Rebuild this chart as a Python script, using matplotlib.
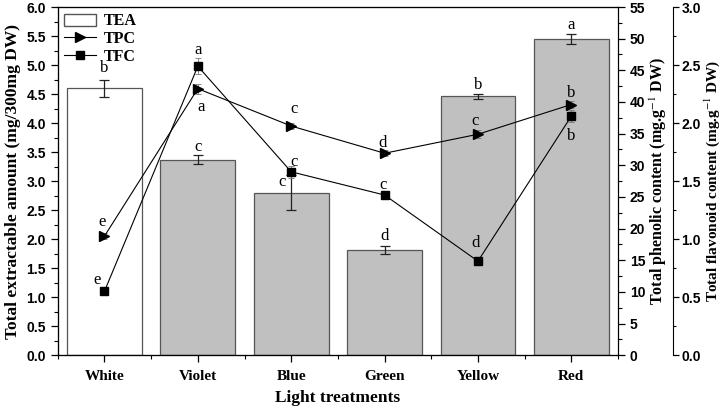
import numpy as np
import matplotlib
matplotlib.use('Agg')
import matplotlib.pyplot as plt
from matplotlib.ticker import MultipleLocator
from matplotlib.lines import Line2D
from matplotlib.patches import Patch

plt.rcParams['mathtext.fontset'] = 'stix'

treatments = ['White', 'Violet', 'Blue', 'Green', 'Yellow', 'Red']
tea = [4.60, 3.37, 2.80, 1.82, 4.46, 5.45]
tea_err = [0.15, 0.08, 0.30, 0.07, 0.04, 0.09]
tpc = [18.8, 42.1, 36.2, 31.9, 34.9, 39.6]
tpc_err = [0.5, 0.8, 0.5, 0.5, 0.6, 0.6]
tfc = [0.55, 2.49, 1.58, 1.38, 0.81, 2.06]
tfc_err = [0.02, 0.07, 0.05, 0.03, 0.02, 0.05]

# significance letters: (x, y in left-axis units)
tea_lbl = ['b', 'c', 'c', 'd', 'b', 'a']
tea_lxy = [(0.0, 4.95), (1.0, 3.59), (1.9, 2.98), (3.0, 2.05), (4.0, 4.66), (5.0, 5.69)]
tpc_lbl = ['e', 'a', 'c', 'd', 'c', 'b']
tpc_lxy = [(-0.03, 2.29), (1.03, 4.28), (2.03, 4.24), (2.98, 3.66), (3.97, 4.03), (5.0, 4.52)]
tfc_lbl = ['e', 'a', 'c', 'c', 'd', 'b']
tfc_lxy = [(-0.08, 1.29), (1.0, 5.26), (2.03, 3.33), (2.98, 2.93), (3.97, 1.93), (5.0, 3.78)]

serif = 'Liberation Serif'
sans = 'Liberation Sans'

fig = plt.figure(figsize=(7.22, 4.13), dpi=100)
ax = fig.add_axes([0.080, 0.140, 0.776, 0.843])
x = np.arange(len(treatments))

fills = ['white'] + ['#c0c0c0'] * 5
ax.bar(x, tea, 0.8, color=fills, edgecolor='#555555', linewidth=0.9, zorder=1)
ax.errorbar(x, tea, yerr=tea_err, fmt='none', ecolor='#222222', elinewidth=0.9, capsize=3.5, capthick=0.9, zorder=2)
ax.set_xlim(-0.5, 5.5)
ax.set_ylim(0, 6)
ax.yaxis.set_major_locator(MultipleLocator(0.5))
ax.yaxis.set_minor_locator(MultipleLocator(0.25))
ax.set_xticks(x)
ax.set_xticks(np.arange(-0.5, 6, 1), minor=True)
ax.set_xticklabels(treatments, fontfamily=serif, fontweight='bold', fontsize=11)
for lab in ax.get_yticklabels():
    lab.set_fontfamily(sans); lab.set_fontweight('bold'); lab.set_fontsize(10)
ax.yaxis.set_major_formatter(matplotlib.ticker.FormatStrFormatter('%.1f'))
ax.tick_params(axis='both', which='major', direction='out', length=5, width=0.9)
ax.tick_params(axis='both', which='minor', direction='out', length=3, width=0.8)
ax.tick_params(axis='x', pad=6)
ax.set_ylabel('Total extractable amount (mg/300mg DW)', fontfamily=serif, fontweight='bold', fontsize=12.5, labelpad=4)
ax.set_xlabel('Light treatments', fontfamily=serif, fontweight='bold', fontsize=12.5, labelpad=5)

ax2 = ax.twinx()
ax2.errorbar(x, tpc, yerr=tpc_err, color='black', marker='>', markersize=7, linewidth=0.8,
             elinewidth=0.6, ecolor='#777777', capsize=2.5, capthick=0.6, zorder=3)
ax2.set_ylim(0, 55)
ax2.yaxis.set_major_locator(MultipleLocator(5))
ax2.yaxis.set_minor_locator(MultipleLocator(2.5))
ax2.tick_params(axis='y', which='major', direction='out', length=5, width=0.9)
ax2.tick_params(axis='y', which='minor', direction='out', length=3, width=0.8)
ax2.set_ylabel('Total phenolic content (mg.g$^{-1}$ DW)', fontfamily=serif, fontweight='bold', fontsize=11.5, labelpad=2)

ax3 = ax.twinx()
ax3.spines['right'].set_position(('outward', 39.6))
ax3.errorbar(x, tfc, yerr=tfc_err, color='black', marker='s', markersize=6, linewidth=0.8,
             elinewidth=0.6, ecolor='#777777', capsize=2.5, capthick=0.6, zorder=3)
ax3.set_ylim(0, 3)
ax3.yaxis.set_major_locator(MultipleLocator(0.5))
ax3.yaxis.set_minor_locator(MultipleLocator(0.25))
ax3.yaxis.set_major_formatter(matplotlib.ticker.FormatStrFormatter('%.1f'))
ax3.tick_params(axis='y', which='major', direction='out', length=4, width=0.9, pad=2)
ax3.tick_params(axis='y', which='minor', direction='out', length=2.5, width=0.8)
ax3.set_ylabel('Total flavonoid content (mg.g$^{-1}$ DW)', fontfamily=serif, fontweight='bold', fontsize=11, labelpad=1)

for a in (ax2, ax3):
    for lab in a.get_yticklabels():
        lab.set_fontfamily(sans); lab.set_fontweight('bold'); lab.set_fontsize(10)

for lbls, pos in ((tea_lbl, tea_lxy), (tpc_lbl, tpc_lxy), (tfc_lbl, tfc_lxy)):
    for t, (lx, ly) in zip(lbls, pos):
        ax.text(lx, ly, t, ha='center', va='center', fontfamily=serif, fontsize=12, zorder=5)

handles = [Patch(facecolor='white', edgecolor='#555555', label='TEA'),
           Line2D([], [], color='black', marker='>', markersize=7, linewidth=0.8, label='TPC'),
           Line2D([], [], color='black', marker='s', markersize=6, linewidth=0.8, label='TFC')]
ax3.legend(handles=handles, loc='upper left', frameon=False, prop={'family': serif, 'weight': 'bold', 'size': 11.5},
           handlelength=2.0, handleheight=0.8, borderaxespad=0.1, borderpad=0.3, labelspacing=0.12,
           handletextpad=0.5)

fig.savefig('out.png', dpi=100)
